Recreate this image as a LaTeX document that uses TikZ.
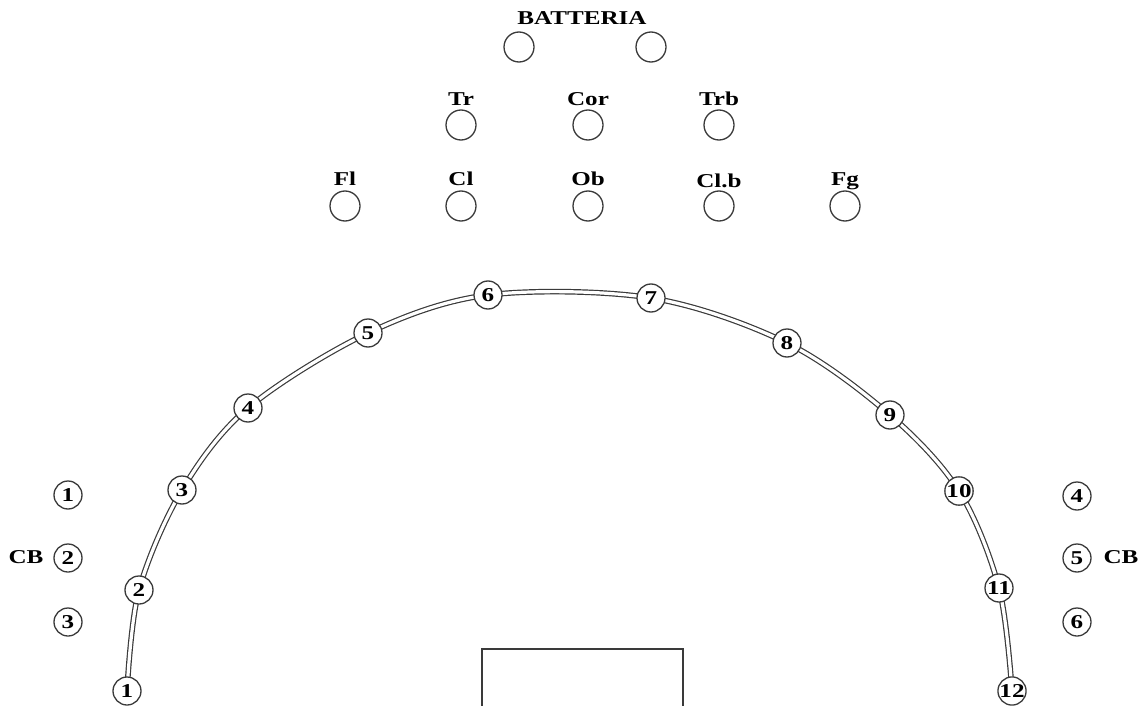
\documentclass[tikz,border=0pt]{standalone}
\usepackage{fontspec}
\setmainfont{Liberation Serif}[FakeStretch=1.28]
\usepackage{xcolor}
\usepackage{tikz}
\usetikzlibrary{
    positioning,
    backgrounds
}
\definecolor{orLine}{HTML}{3A3A3A}
\tikzset{
    orDesk/.style={
        circle,
        draw=orLine,
        fill=white,
        line width=0.65pt,
        minimum size=15pt,
        inner sep=0pt
    },
    orSeat/.style={
        circle,
        draw=orLine,
        fill=white,
        line width=0.65pt,
        minimum size=14pt,
        inner sep=0pt,
        font=\fontsize{9.8}{10}\selectfont\bfseries
    },
    orLabel/.style={
        font=\fontsize{9.8}{10}\selectfont\bfseries,
        inner sep=0pt
    },
    orArc/.style={
        draw=orLine,
        line width=0.6pt,
        double=white,
        double distance=1.6pt
    },
    orPodium/.style={draw=orLine,line width=0.65pt}
}

\begin{document}
\begin{tikzpicture}[x=0.5pt,y=-0.5pt]
        \useasboundingbox (0,0) rectangle (1146,706);

        % percussion and brass
        \node[orLabel] (batt) at (582,18) {BATTERIA};
        \node[orDesk] (batt-l) at (519,47) {};
        \node[orDesk] (batt-r) at (651,47) {};

        \node[orLabel] (tr-lab) at (461,99) {Tr};
        \node[orLabel] (cor-lab) at (588,99) {Cor};
        \node[orLabel] (trb-lab) at (719,99) {Trb};
        \node[orDesk] (tr) at (461,125) {};
        \node[orDesk] (cor) at (588,125) {};
        \node[orDesk] (trb) at (719,125) {};

        % woodwinds
        \node[orLabel] (fl-lab) at (345,179) {Fl};
        \node[orLabel] (cl-lab) at (461,179) {Cl};
        \node[orLabel] (ob-lab) at (588,179) {Ob};
        \node[orLabel] (clb-lab) at (719,181) {Cl.b};
        \node[orLabel] (fg-lab) at (845,181) {Fg};
        \node[orDesk] (fl) at (345,206) {};
        \node[orDesk] (cl) at (461,206) {};
        \node[orDesk] (ob) at (588,206) {};
        \node[orDesk] (clb) at (719,206) {};
        \node[orDesk] (fg) at (845,206) {};

        % strings on the arc
        \node[orSeat] (s1) at (127,691) {1};
        \node[orSeat] (s2) at (139,590) {2};
        \node[orSeat] (s3) at (182,490) {3};
        \node[orSeat] (s4) at (248,408) {4};
        \node[orSeat] (s5) at (368,333) {5};
        \node[orSeat] (s6) at (488,295) {6};
        \node[orSeat] (s7) at (651,298) {7};
        \node[orSeat] (s8) at (787,343) {8};
        \node[orSeat] (s9) at (890,415) {9};
        \node[orSeat] (s10) at (959,491) {10};
        \node[orSeat] (s11) at (999,588) {11};
        \node[orSeat] (s12) at (1012,691) {12};

        \begin{scope}[on background layer]
            \draw[orArc] plot[smooth,tension=0.55] coordinates
                {(s1) (s2) (s3) (s4) (s5) (s6) (s7) (s8) (s9) (s10) (s11) (s12)};
        \end{scope}

        % double basses
        \node[orSeat] (cb1) at (68,495) {1};
        \node[orSeat] (cb2) at (68,558) {2};
        \node[orSeat] (cb3) at (68,622) {3};
        \node[orLabel] (cb-l) at (26,557) {CB};
        \node[orSeat] (cb4) at (1077,496) {4};
        \node[orSeat] (cb5) at (1077,558) {5};
        \node[orSeat] (cb6) at (1077,622) {6};
        \node[orLabel] (cb-r) at (1121,557) {CB};

        % podium
        \draw[orPodium] (482,706) -- (482,649) -- (683,649) -- (683,706);
    \end{tikzpicture}
\end{document}
